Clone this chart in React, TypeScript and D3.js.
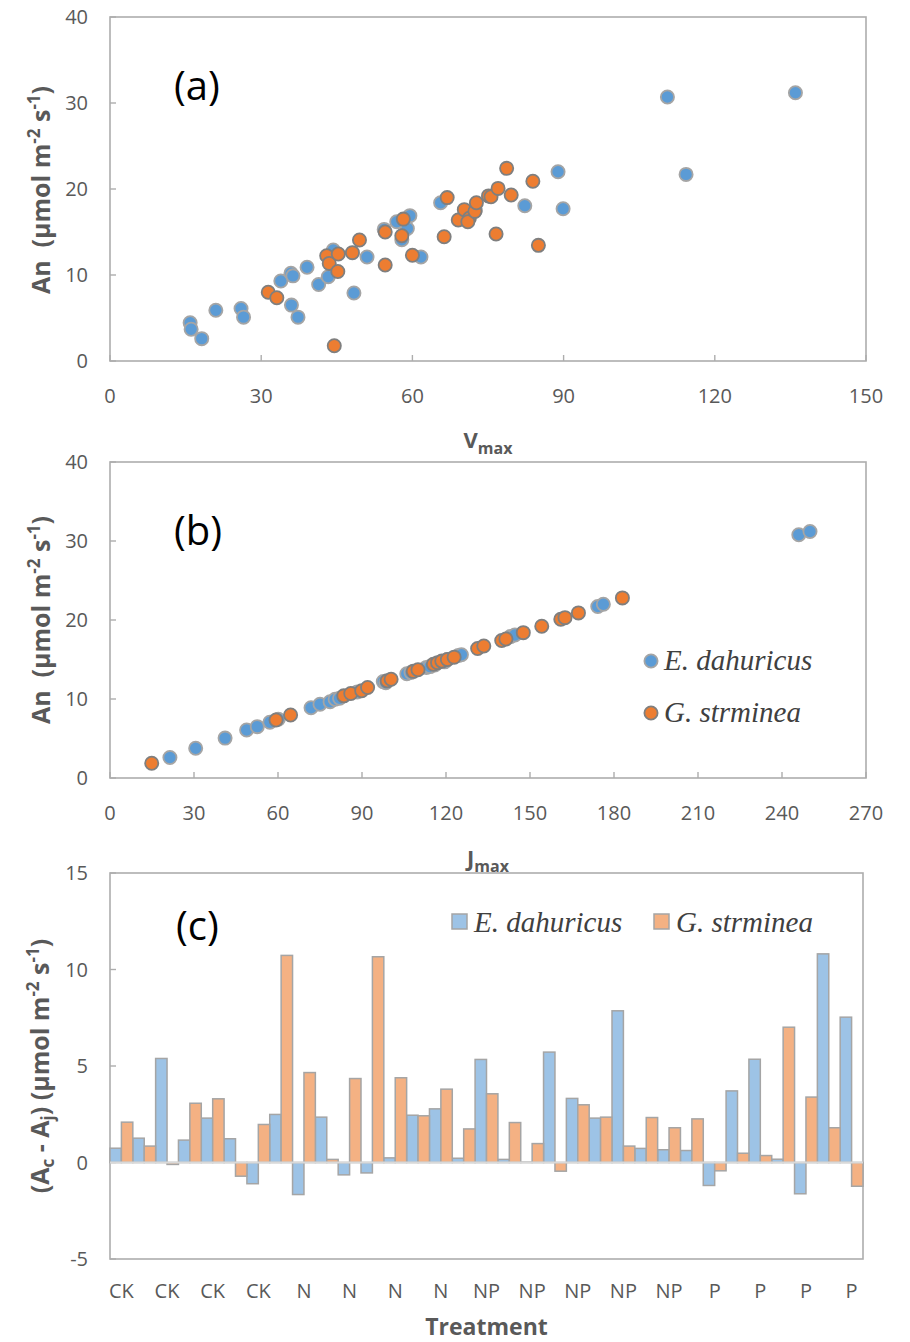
import * as d3 from "d3";

// ---- panel (a): An vs Vmax ----
const vmaxBlue = [15.9, 16.1, 18.2, 21.0, 26.0, 26.5, 33.9, 35.9, 36.3, 36.0, 37.3, 39.1, 41.4, 43.3, 44.3, 48.4, 51.0, 54.4, 56.9, 59.5, 59.0, 57.9, 61.7, 65.6, 72.5, 82.3, 88.9, 89.9, 110.6, 114.3, 136.0];
const anBlueA = [4.45, 3.7, 2.6, 5.9, 6.1, 5.1, 9.3, 10.2, 9.9, 6.5, 5.1, 10.9, 8.9, 9.8, 12.9, 7.9, 12.1, 15.3, 16.2, 16.9, 15.4, 14.1, 12.1, 18.4, 17.5, 18.05, 22.0, 17.7, 30.7, 21.7, 31.2];
const vmaxOrange = [31.4, 33.1, 43.0, 43.5, 45.3, 45.2, 44.5, 48.1, 49.5, 54.6, 54.6, 58.2, 57.9, 60.0, 66.3, 66.9, 69.1, 70.3, 71.3, 71.0, 72.4, 72.7, 75.1, 75.6, 77.0, 79.6, 78.7, 76.6, 83.9, 85.0];
const anOrangeA = [8.0, 7.36, 12.24, 11.35, 12.44, 10.4, 1.78, 12.6, 14.07, 15.0, 11.16, 16.5, 14.57, 12.3, 14.45, 19.0, 16.4, 17.6, 16.6, 16.2, 17.4, 18.4, 19.2, 19.1, 20.07, 19.3, 22.4, 14.77, 20.9, 13.45];

// ---- panel (b): An vs Jmax ----
const jmaxBlue = [21.4, 30.6, 41.1, 48.8, 52.6, 57.1, 60.1, 71.8, 75.0, 78.6, 80.4, 82.0, 88.3, 97.6, 98.5, 106.0, 107.5, 113.0, 114.3, 116.0, 119.5, 120.5, 124.4, 125.5, 143.0, 144.6, 174.2, 176.2, 246.0, 250.0];
const anBlueB = [2.6, 3.76, 5.05, 6.08, 6.5, 7.05, 7.45, 8.9, 9.33, 9.66, 9.96, 10.1, 10.9, 12.2, 12.06, 13.2, 13.35, 14.0, 14.1, 14.3, 14.7, 15.0, 15.5, 15.6, 17.9, 18.1, 21.7, 22.0, 30.8, 31.2];
const jmaxOrange = [14.9, 59.3, 64.5, 83.5, 86.0, 89.9, 92.0, 99.0, 100.4, 108.3, 110.0, 115.5, 117.0, 118.5, 120.5, 122.9, 131.3, 133.5, 139.9, 141.4, 147.6, 154.2, 161.0, 162.5, 167.3, 183.0];
const anOrangeB = [1.86, 7.34, 7.97, 10.4, 10.7, 11.05, 11.45, 12.3, 12.5, 13.5, 13.7, 14.4, 14.6, 14.8, 15.0, 15.3, 16.4, 16.7, 17.4, 17.6, 18.4, 19.2, 20.1, 20.3, 20.9, 22.8];

// ---- panel (c): Ac - Aj by treatment ----
const treatments = [
  "CK", "CK", "CK", "CK", "CK", "CK", "CK", "CK",
  "N", "N", "N", "N", "N", "N", "N", "N",
  "NP", "NP", "NP", "NP", "NP", "NP", "NP", "NP", "NP", "NP",
  "P", "P", "P", "P", "P", "P", "P",
];
const diffBlue = [0.74, 1.26, 5.39, 1.16, 2.30, 1.23, -1.10, 2.49, -1.66, 2.35, -0.64, -0.54, 0.24, 2.45, 2.78, 0.22, 5.34, 0.16, 0.02, 5.72, 3.32, 2.30, 7.86, 0.73, 0.66, 0.62, -1.19, 3.71, 5.35, 0.17, -1.62, 10.81, 7.53];
const diffOrange = [2.09, 0.85, -0.10, 3.07, 3.30, -0.71, 1.97, 10.73, 4.66, 0.16, 4.35, 10.66, 4.39, 2.42, 3.80, 1.74, 3.56, 2.07, 0.98, -0.45, 2.99, 2.35, 0.85, 2.33, 1.80, 2.26, -0.43, 0.48, 0.36, 7.01, 3.39, 1.80, -1.23];

const species = ["E. dahuricus", "G. strminea"];

const font = "'Open Sans', 'Noto Sans', sans-serif";
const serif = "'Liberation Serif', 'DejaVu Serif', serif";
const axisGray = "#ADADAD";
const textGray = "#595959";
const blue = "#5B9BD5";
const orange = "#ED7D31";
const barBlue = "#9DC3E6";
const barOrange = "#F4B183";
const tickSize = 20;

type Box = { x0: number; x1: number; y0: number; y1: number };

function Frame({ box }: { box: Box }) {
  return (
    <rect x={box.x0} y={box.y0} width={box.x1 - box.x0} height={box.y1 - box.y0}
      fill="none" stroke={axisGray} strokeWidth={1.6} />
  );
}

// rotated y-axis title, with super/subscripts
function YTitle({ cx, cy, sub }: { cx: number; cy: number; sub?: boolean }) {
  return (
    <text transform={`translate(${cx},${cy}) rotate(-90)`} textAnchor="middle"
      fontFamily={font} fontWeight="bold" fontSize={25} fill={textGray} style={{ whiteSpace: "pre" }}>
      {sub ? (
        <>
          (A<tspan fontSize={17} dy={5}>c</tspan><tspan dy={-5}> - A</tspan>
          <tspan fontSize={17} dy={5}>j</tspan><tspan dy={-5}>) (µmol m</tspan>
        </>
      ) : (
        <>An  (µmol m</>
      )}
      <tspan fontSize={17} dy={-10}>-2</tspan>
      <tspan dy={10}> s</tspan>
      <tspan fontSize={17} dy={-10}>-1</tspan>
      <tspan dy={10}>)</tspan>
    </text>
  );
}

function Scatter({ box, xMax, xs, ysB, xsO, ysO, label, labelY, xTitle, titleY, yTitleCy, legend }: any) {
  const x = d3.scaleLinear().domain([0, xMax]).range([box.x0, box.x1]);
  const y = d3.scaleLinear().domain([0, 40]).range([box.y1, box.y0]);
  const xTicks = d3.range(0, xMax + 1, 30);
  const yTicks = d3.range(0, 41, 10);
  return (
    <g>
      <Frame box={box} />
      {xTicks.map((t) => (
        <g key={"x" + t}>
          <line x1={x(t)} x2={x(t)} y1={box.y1} y2={box.y1 - 6} stroke={axisGray} strokeWidth={1.4} />
          <text x={x(t)} y={box.y1 + 42} textAnchor="middle" fontFamily={font} fontSize={tickSize} fill={textGray}>{t}</text>
        </g>
      ))}
      {yTicks.map((t) => (
        <g key={"y" + t}>
          <line x1={box.x0} x2={box.x0 + 6} y1={y(t)} y2={y(t)} stroke={axisGray} strokeWidth={1.4} />
          <text x={88} y={y(t)} dy="0.36em" textAnchor="end" fontFamily={font} fontSize={tickSize} fill={textGray}>{t}</text>
        </g>
      ))}
      {xs.map((v: number, i: number) => (
        <circle key={"b" + i} cx={x(v)} cy={y(ysB[i])} r={6.6} fill={blue} stroke="#A5A5A5" strokeWidth={1.8} />
      ))}
      {xsO.map((v: number, i: number) => (
        <circle key={"o" + i} cx={x(v)} cy={y(ysO[i])} r={6.6} fill={orange} stroke="#7F7F7F" strokeWidth={1.8} />
      ))}
      <text x={174} y={labelY} fontFamily={font} fontSize={40} fill="#000">{label}</text>
      <text x={(box.x0 + box.x1) / 2} y={titleY} textAnchor="middle" fontFamily={font} fontWeight="bold" fontSize={22} fill={textGray}>
        {xTitle}<tspan fontSize={16} dy={6}>max</tspan>
      </text>
      <YTitle cx={50} cy={yTitleCy} />
      {legend && species.map((s, i) => (
        <g key={s}>
          <circle cx={651} cy={661 + i * 52} r={6.6} fill={i === 0 ? blue : orange} stroke={i === 0 ? "#A5A5A5" : "#7F7F7F"} strokeWidth={1.8} />
          <text x={664} y={670 + i * 52} fontFamily={serif} fontStyle="italic" fontSize={29} fill="#404040">{s}</text>
        </g>
      ))}
    </g>
  );
}

function Bars({ box }: { box: Box }) {
  const idx = treatments.map((_, i) => i);
  const x = d3.scaleBand<number>().domain(idx).range([box.x0, box.x1]).paddingInner(0).paddingOuter(0);
  const xs = d3.scaleBand<string>().domain(species).range([0, x.bandwidth()]).padding(0);
  const y = d3.scaleLinear().domain([-5, 15]).range([box.y1, box.y0]);
  const yTicks = d3.range(-5, 16, 5);
  const series = [diffBlue, diffOrange];
  const fills = [barBlue, barOrange];
  return (
    <g>
      <Frame box={box} />
      {yTicks.map((t) => (
        <g key={t}>
          <line x1={box.x0} x2={box.x0 + 6} y1={y(t)} y2={y(t)} stroke={axisGray} strokeWidth={1.4} />
          <text x={88} y={y(t)} dy="0.36em" textAnchor="end" fontFamily={font} fontSize={tickSize} fill={textGray}>{t}</text>
        </g>
      ))}
      {series.map((vals, s) =>
        vals.map((v, i) => (
          <rect key={s + "-" + i}
            x={(x(i) as number) + (xs(species[s]) as number)}
            y={y(Math.max(0, v))}
            width={xs.bandwidth()}
            height={Math.abs(y(v) - y(0))}
            fill={fills[s]} stroke="#A5A5A5" strokeWidth={1.5} />
        ))
      )}
      <line x1={box.x0} x2={box.x1} y1={y(0)} y2={y(0)} stroke="#D9D9D9" strokeWidth={2} />
      {idx.filter((i) => i % 2 === 0).map((i) => (
        <text key={i} x={(x(i) as number) + x.bandwidth() / 2} y={1298} textAnchor="middle"
          fontFamily={font} fontSize={tickSize} fill={textGray}>{treatments[i]}</text>
      ))}
      <text x={176} y={940} fontFamily={font} fontSize={40} fill="#000">(c)</text>
      <text x={(box.x0 + box.x1) / 2} y={1335} textAnchor="middle" fontFamily={font} fontWeight="bold" fontSize={23} fill={textGray}>Treatment</text>
      <YTitle cx={49} cy={(box.y0 + box.y1) / 2} sub />
      {species.map((s, i) => (
        <g key={s}>
          <rect x={452 + i * 202} y={914} width={15} height={15} fill={fills[i]} stroke="#A5A5A5" strokeWidth={1.5} />
          <text x={474 + i * 202} y={932} fontFamily={serif} fontStyle="italic" fontSize={29} fill="#404040">{s}</text>
        </g>
      ))}
    </g>
  );
}

export default function App() {
  const boxA = { x0: 110, x1: 866, y0: 17, y1: 361 };
  const boxB = { x0: 110, x1: 866, y0: 462, y1: 778 };
  const boxC = { x0: 110, x1: 863, y0: 873, y1: 1259 };
  return (
    <svg width={910} height={1342} style={{ position: "absolute", left: 0, top: 0, background: "#fff" }}>
      <rect width={910} height={1342} fill="#fff" />
      <Scatter box={boxA} xMax={150} xs={vmaxBlue} ysB={anBlueA} xsO={vmaxOrange} ysO={anOrangeA}
        label="(a)" labelY={100} xTitle="V" titleY={448} yTitleCy={190} />
      <Scatter box={boxB} xMax={270} xs={jmaxBlue} ysB={anBlueB} xsO={jmaxOrange} ysO={anOrangeB}
        label="(b)" labelY={545} xTitle="J" titleY={866} yTitleCy={620} legend />
      <Bars box={boxC} />
    </svg>
  );
}
